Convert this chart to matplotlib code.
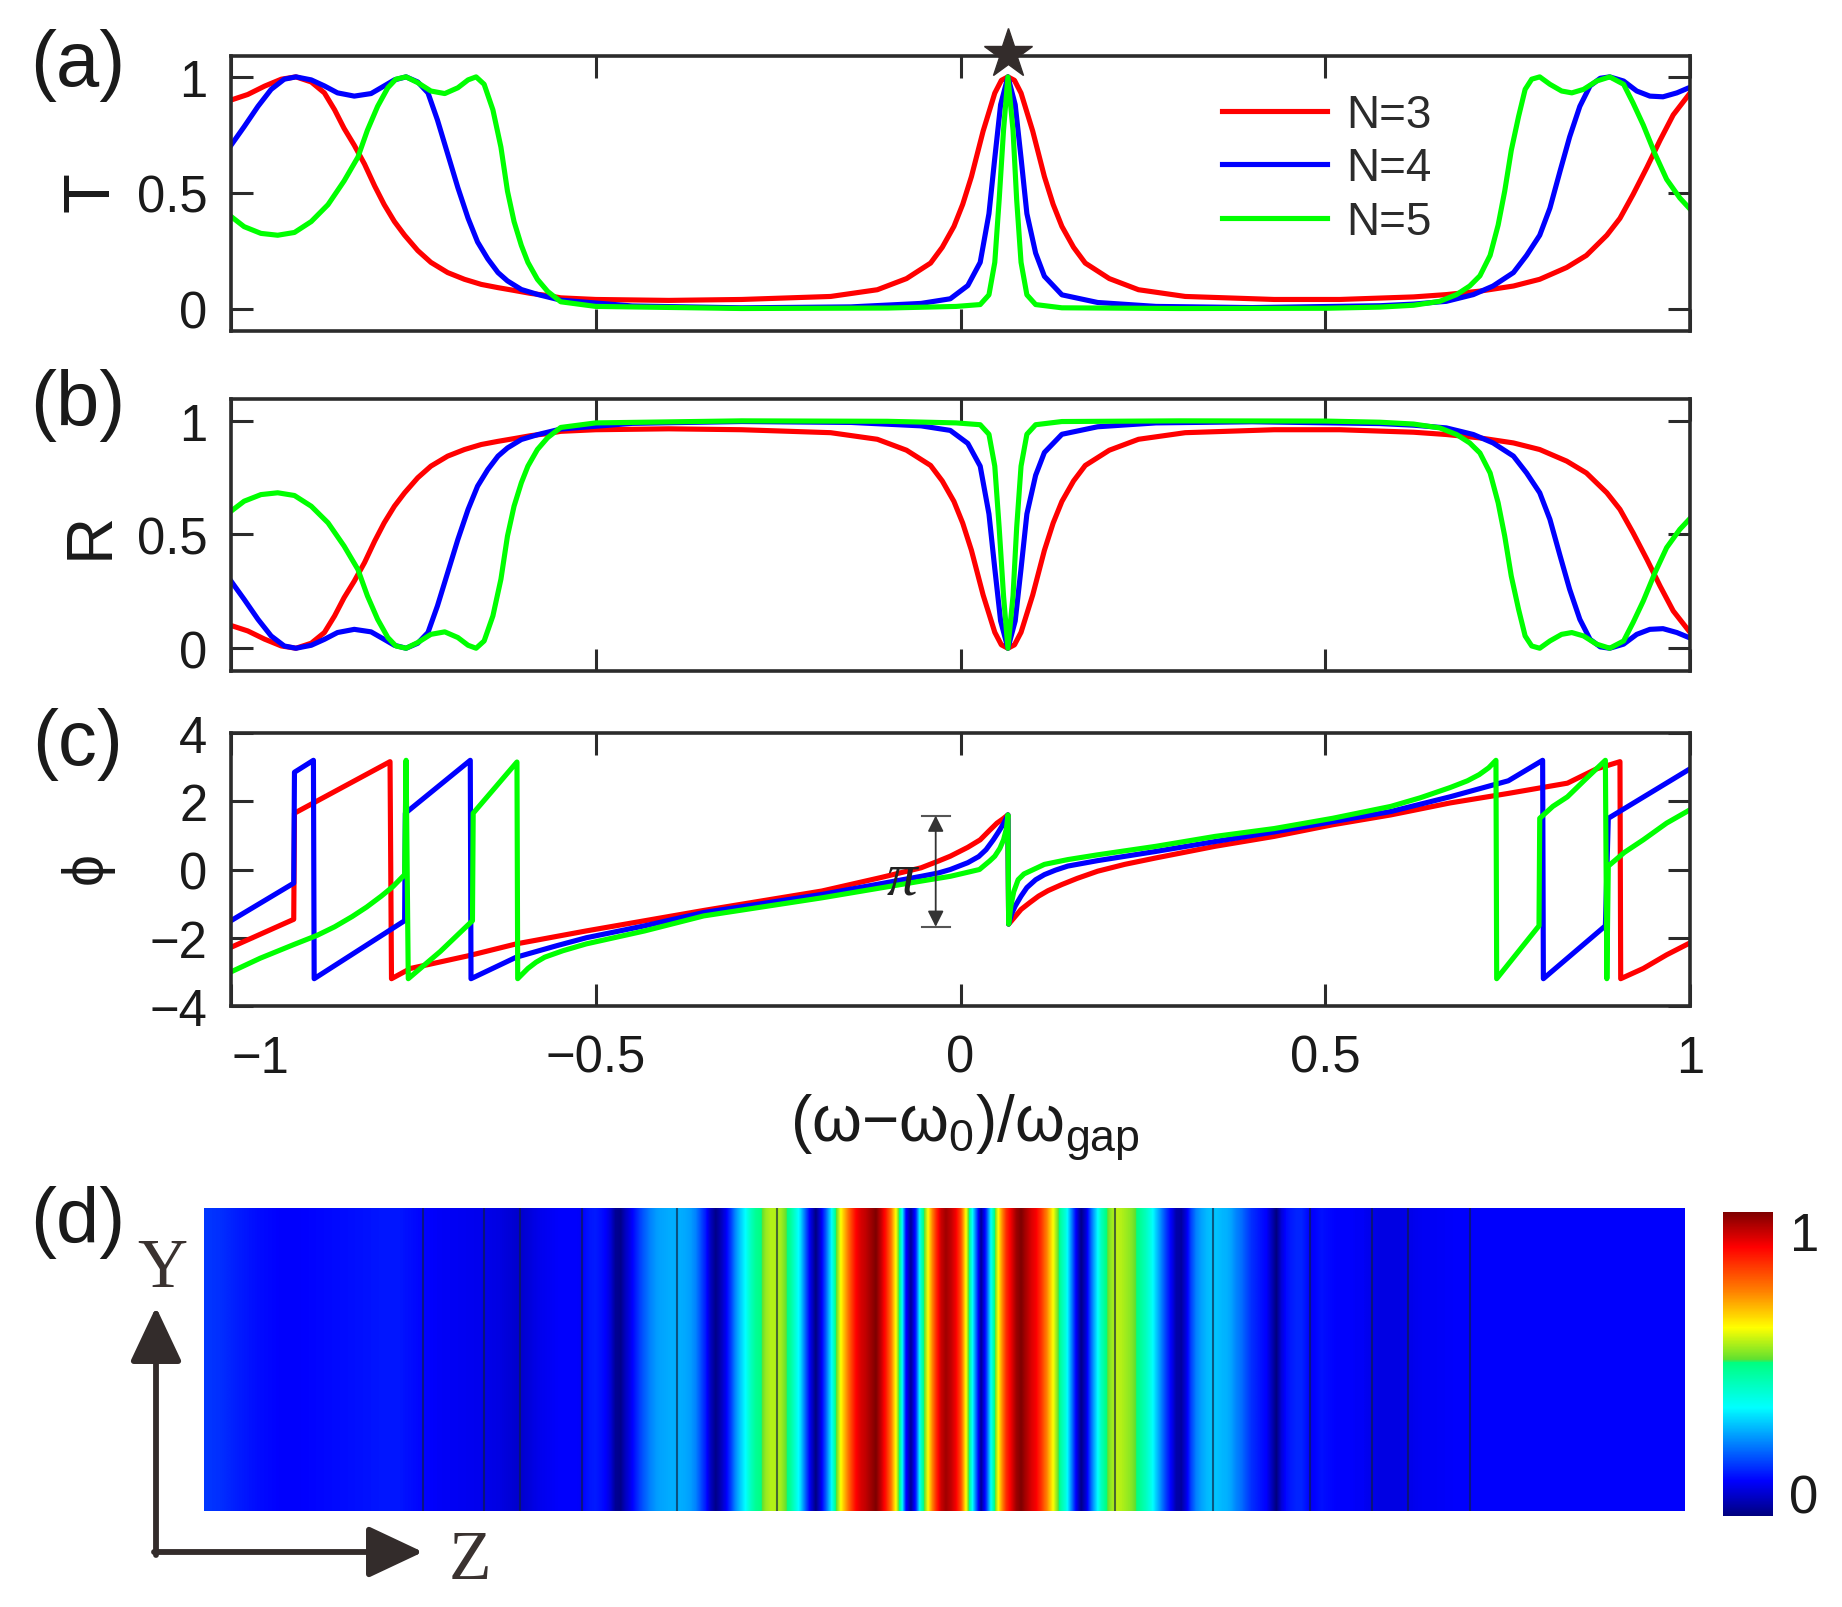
import matplotlib

matplotlib.use("Agg")
import matplotlib.pyplot as plt
from matplotlib.cm import ScalarMappable
from matplotlib.colors import LinearSegmentedColormap, Normalize

W, H = 1842, 1608
plt.rcParams["font.family"] = ["Liberation Sans", "DejaVu Sans"]
plt.rcParams["mathtext.fontset"] = "custom"
plt.rcParams["mathtext.rm"] = "Liberation Sans"

RED, BLUE, GREEN = "#ff0000", "#0000ff", "#00ff00"
DARK = "#2b2b2b"
LW = 3.7

# (a) and (b), N=3
x_n3 = [-1, -.977, -.954, -.931, -.911, -.89, -.872, -.858, -.845, -.831, -.817, -.803, -.79, -.776, -.762,
        -.744, -.726, -.703, -.68, -.657, -.634, -.612, -.589, -.566, -.548, -.5, -.4, -.3, -.178, -.114,
        -.074, -.041, -.025, -.009, .003, .015, .031, .047, .056, .065, .074, .083, .099, .115, .127, .139, .155, .171, .204,
        .244, .308, .43, .52, .621, .666, .712, .758, .794, .831, .858, .886, .904, .922, .941, .959, .977, 1]
t_n3 = [.90, .924, .96, .99, 1, .978, .931, .858, .778, .705, .624, .529, .449, .376, .317,
        .251, .20, .156, .127, .105, .091, .079, .066, .057, .047, .04, .036, .04, .053, .082,
        .13, .197, .265, .355, .45, .57, .766, .93, .985, 1, .985, .93, .766, .57, .45, .355, .265, .197, .13,
        .082, .053, .04, .04, .051, .061, .076, .098, .127, .178, .23, .317, .39, .493, .61, .727, .836, .93]
r_n3 = [.10, .076, .04, .01, 0, .022, .069, .142, .222, .295, .376, .471, .551, .624, .683,
        .749, .80, .844, .873, .895, .909, .921, .934, .943, .953, .96, .964, .96, .947, .918,
        .87, .803, .735, .645, .55, .43, .234, .07, .015, 0, .015, .07, .234, .43, .55, .645, .735, .803, .87,
        .918, .947, .96, .96, .949, .939, .924, .902, .873, .822, .77, .683, .61, .507, .39, .273, .164, .07]

# (a) and (b), N=4
x_n4 = [-1, -.982, -.963, -.945, -.927, -.911, -.89, -.872, -.854, -.831, -.808, -.79, -.776, -.76, -.744,
        -.73, -.717, -.703, -.689, -.675, -.662, -.648, -.634, -.621, -.602, -.579, -.548, -.45, -.3, -.15,
        -.054, -.014, .01, .027, .039, .047, .055, .065, .075, .083, .091, .103, .115, .139, .188,
        .268, .4, .575, .621, .666, .703, .73, .758, .776, .794, .808, .822, .835, .849, .863,
        .877, .89, .909, .927, .945, .963, .982, 1]
t_n4 = [.705, .785, .873, .946, .99, 1, .987, .961, .931, .917, .928, .961, .987, 1, .978,
        .931, .814, .668, .522, .39, .288, .215, .156, .12, .083, .061, .037, .012, .004, .008,
        .023, .043, .10, .20, .41, .65, .88, 1, .88, .65, .41, .24, .14, .06, .027,
        .01, .005, .013, .02, .032, .061, .098, .156, .23, .317, .434, .595, .741, .873, .961,
        .994, 1, .982, .939, .917, .914, .931, .955]
r_n4 = [.295, .215, .127, .054, .01, 0, .013, .039, .069, .083, .072, .039, .013, 0, .022,
        .069, .186, .332, .478, .61, .712, .785, .844, .88, .917, .939, .963, .988, .996, .992,
        .977, .957, .90, .80, .59, .35, .12, 0, .12, .35, .59, .76, .86, .94, .973,
        .99, .995, .987, .98, .968, .939, .902, .844, .77, .683, .566, .405, .259, .127, .039,
        .006, 0, .018, .061, .083, .086, .069, .045]

# (a) and (b), N=5
x_n5 = [-1, -.982, -.959, -.936, -.913, -.89, -.867, -.845, -.826, -.813, -.799, -.785, -.774, -.76, -.744,
        -.726, -.707, -.689, -.675, -.664, -.653, -.641, -.63, -.621, -.612, -.602, -.593, -.58, -.566, -.548,
        -.5, -.3, -.1, -.006, .027, .039, .047, .053, .059, .065, .072, .077, .083, .091, .103,
        .139, .3, .5, .575, .621, .657, .68, .698, .712, .726, .737, .746, .755, .765, .774,
        .783, .794, .808, .824, .838, .854, .872, .89, .909, .922, .936, .952, .968, .986, 1]
t_n5 = [.398, .354, .325, .317, .329, .376, .449, .551, .654, .77, .873, .953, .99, 1, .975,
        .939, .928, .953, .987, 1, .968, .858, .697, .507, .376, .273, .2, .127, .075, .03,
        .01, .001, .003, .01, .018, .06, .2, .47, .77, 1, .77, .47, .2, .06, .018,
        .004, .001, .002, .007, .015, .032, .061, .098, .142, .23, .361, .507, .683, .829, .946,
        .99, 1, .968, .939, .931, .946, .982, 1, .968, .887, .792, .668, .558, .478, .43]
r_n5 = [.602, .646, .675, .683, .671, .624, .551, .449, .346, .23, .127, .047, .01, 0, .025,
        .061, .072, .047, .013, 0, .032, .142, .303, .493, .624, .727, .80, .873, .925, .97,
        .99, .999, .997, .99, .982, .94, .80, .53, .23, 0, .23, .53, .80, .94, .982,
        .996, .999, .998, .993, .985, .968, .939, .902, .858, .77, .639, .493, .317, .171, .054,
        .01, 0, .032, .061, .069, .054, .018, 0, .032, .113, .208, .332, .442, .522, .57]

# (c), phase
x_phi_n3 = [-1, -.914, -.913, -.782, -.78, -.754, -.673, -.609, -.513, -.352, -.19, -.11, -.054, -.03, -.014,
            .01, .027, .04, .05, .058, .065, .066, .072, .083, .095, .107, .12, .139, .16, .188, .225, .268,
            .349, .43, .51, .59, .671, .751, .832, .872, .904, .905, .936, .968, 1]
phi_n3 = [-2.28, -1.46, 1.65, 3.16, -3.2, -2.9, -2.52, -2.18, -1.8, -1.2, -.63, -.24, .05, .25, .39,
          .65, .87, 1.15, 1.36, 1.48, 1.6, -1.6, -1.45, -1.17, -.97, -.78, -.62, -.44, -.26, -.05, .15, .34,
          .68, .97, 1.31, 1.6, 1.95, 2.23, 2.53, 2.95, 3.16, -3.2, -2.9, -2.5, -2.15]
x_phi_n4 = [-1, -.914, -.913, -.887, -.886, -.762, -.761, -.672, -.671, -.609, -.553, -.513, -.433, -.352,
            -.19, -.054, -.03, -.014, .01, .025, .035, .045, .052, .06, .065, .066, .07, .075, .083, .091,
            .103, .115, .13, .147, .188, .268, .349, .43, .51, .59, .671, .751, .798, .799, .884, .888, 1]
phi_n4 = [-1.5, -.4, 2.85, 3.2, -3.2, -1.5, 1.65, 3.2, -3.2, -2.57, -2.23, -2.0, -1.65, -1.26,
          -.73, -.2, -.1, 0, .2, .38, .58, .87, 1.1, 1.38, 1.6, -1.6, -1.3, -1.07, -.78, -.53,
          -.3, -.15, -.02, .1, .26, .53, .82, 1.1, 1.4, 1.7, 2.13, 2.6, 3.2, -3.2, -1.65, 1.5, 2.95]
x_phi_n5 = [-1, -.96, -.914, -.882, -.858, -.834, -.814, -.794, -.778, -.762, -.76, -.757, -.713, -.669, -.668,
            -.608, -.607, -.6, -.593, -.582, -.57, -.545, -.513, -.433, -.352, -.19, -.054, -.014, .026, .04,
            .047, .054, .059, .063, .065, .066, .069, .073, .079, .087, .095, .115, .147, .188, .268,
            .349, .43, .51, .59, .63, .671, .695, .711, .724, .734, .735, .793, .794, .812, .832, .857, .884,
            .886, .888, .91, .936, .968, 1]
phi_n5 = [-3.0, -2.6, -2.2, -1.93, -1.68, -1.38, -1.1, -.78, -.5, -.15, 3.2, -3.2, -2.4, -1.5, 1.65,
          3.15, -3.2, -3.05, -2.9, -2.72, -2.57, -2.38, -2.18, -1.8, -1.36, -.83, -.34, -.2, 0, .25,
          .39, .62, .87, 1.2, 1.6, -1.6, -1.07, -.65, -.3, -.13, -.05, .15, .29, .43, .68,
          .97, 1.2, 1.5, 1.85, 2.1, 2.4, 2.6, 2.78, 2.98, 3.2, -3.2, -1.65, 1.5, 1.85, 2.13, 2.65, 3.2,
          -3.2, .1, .5, .87, 1.36, 1.75]

# (d), field along z, left part every 20 px, middle every 5 px, right every 20 px
field_left = [.17, .16, .14, .125, .115, .115, .12, .125, .13, .135, .135, .12, .11, .105, .10, .09, .07, .10, .115]
field_mid = [
    .115, .115, .115, .115, .11, .125, .135, .14, .13, .115, .08, .02, .01, .06, .10, .14,
    .18, .21, .24, .26, .27, .275, .28, .28, .28, .275, .265, .24, .19, .14, .06, .01,
    .05, .10, .17, .25, .31, .36, .43, .48, .50, .55, .57, .57, .56, .52, .47, .40,
    .32, .20, .09, .005, .09, .20, .33, .50, .62, .71, .80, .88, .92, .94, .97, 1.0,
    .94, .86, .76, .62, .44, .13, .02, .15, .42, .56, .70, .83, .93, .97, .94, .89,
    .80, .62, .42, .22, .02, .15, .36, .55, .70, .83, .90, .97, 1.0, .96, .92, .89,
    .83, .75, .66, .56, .46, .39, .25, .11, .01, .08, .21, .32, .43, .50, .55, .58,
    .57, .555, .54, .51, .47, .43, .38, .31, .24, .17, .11, .04, .03, .09, .18, .24,
    .27, .29, .30, .30, .29, .285, .27, .24, .22, .19, .16, .145, .13, .115, .06, 0,
    .08, .125, .14, .15, .15, .13, .11, .12, .13, .125, .12, .115, .115, .115, .115, .11, .11]
field_right = [.11, .09, .09, .105, .11, .115, .115, .115, .115, .115, .115, .115, .115, .115, .115, .115, .115, .115]
layer_lines = [423, 484, 520, 582, 677, 777, 1115, 1213, 1310, 1372, 1408, 1470]

x_ticks = [-1, -.5, 0, .5, 1]
x_labels = ["\u22121", "\u22120.5", "0", "0.5", "1"]
cmap_nodes = [(0, "#00007f"), (.115, "#0000ff"), (.357, "#00ffff"), (.505, "#00ff80"), (.515, "#60e030"),
              (.62, "#ffff00"), (.74, "#ff8000"), (.885, "#ff0000"), (1, "#7f0000")]


def px_axes(left, top, right, bottom):
    return fig.add_axes([left / W, 1 - bottom / H, (right - left) / W, (bottom - top) / H])


def style_axes(ax, ylim, yticks, ylabels):
    ax.set_xlim(-1, 1)
    ax.set_ylim(*ylim)
    ax.set_xticks(x_ticks)
    ax.set_xticklabels([])
    ax.set_yticks(yticks)
    ax.set_yticklabels(ylabels)
    ax.tick_params(direction="in", length=16, width=2.2, color=DARK, top=True, right=True,
                   labelsize=36.5, pad=17, labelcolor="#1a1a1a")
    for s in ax.spines.values():
        s.set_linewidth(2.6)
        s.set_color(DARK)


fig = plt.figure(figsize=(W / 100, H / 100), dpi=100)

# panel a
ax_a = px_axes(231, 57, 1690, 332)
ax_a.plot(x_n3, t_n3, color=RED, lw=LW, label="N=3")
ax_a.plot(x_n4, t_n4, color=BLUE, lw=LW, label="N=4")
ax_a.plot(x_n5, t_n5, color=GREEN, lw=LW, label="N=5")
ax_a.plot([.065], [1.10], marker="*", ms=37, color="#332c2b", clip_on=False, ls="none", zorder=5)
style_axes(ax_a, (-.096, 1.09), [0, .5, 1], ["0", "0.5", "1"])
ax_a.legend(loc="upper left", bbox_to_anchor=(.679, .866), frameon=False, fontsize=33, handlelength=2.3,
            handletextpad=.42, labelspacing=.21, borderpad=0, borderaxespad=0, labelcolor="#2b2b2b")

# panel b
ax_b = px_axes(231, 400, 1690, 672)
ax_b.plot(x_n3, r_n3, color=RED, lw=LW)
ax_b.plot(x_n4, r_n4, color=BLUE, lw=LW)
ax_b.plot(x_n5, r_n5, color=GREEN, lw=LW)
style_axes(ax_b, (-.1, 1.095), [0, .5, 1], ["0", "0.5", "1"])

# panel c
ax_c = px_axes(231, 734, 1690, 1007)
ax_c.plot(x_phi_n3, phi_n3, color=RED, lw=LW)
ax_c.plot(x_phi_n4, phi_n4, color=BLUE, lw=LW)
ax_c.plot(x_phi_n5, phi_n5, color=GREEN, lw=LW)
style_axes(ax_c, (-4, 4), [-4, -2, 0, 2, 4], ["\u22124", "\u22122", "0", "2", "4"])
ax_c.set_xticklabels(x_labels)
ax_c.tick_params(axis="x", pad=20)
ax_c.get_xticklabels()[0].set_ha("left")
ax_c.annotate("", xy=(-.034, 1.58), xytext=(-.034, -1.68),
              arrowprops=dict(arrowstyle="<|-|>", color="#333333", lw=1.3, mutation_scale=24, shrinkA=0, shrinkB=0))
ax_c.plot([-.053, -.015], [1.58, 1.58], color="#555555", lw=1.5)
ax_c.plot([-.053, -.015], [-1.68, -1.68], color="#555555", lw=1.5)
ax_c.text(-.08, -.27, "\u03c0", family="Liberation Serif", style="italic", fontsize=44, ha="center", va="center",
          color="#222222")

# panel d
cmap = LinearSegmentedColormap.from_list("field", cmap_nodes, N=512)
ax_d = px_axes(204, 1209, 1685, 1512)
strips = [(field_left, 200, 20), (field_right, 1360, 20), (field_mid, 560, 5)]
for values, start, step in strips:
    ax_d.imshow([values], cmap=cmap, vmin=0, vmax=1, aspect="auto", interpolation="bilinear",
                extent=[start - step / 2, start + step * (len(values) - .5), 0, 1])
ax_d.set_xlim(204, 1685)
ax_d.set_ylim(0, 1)
ax_d.axis("off")
for z in layer_lines:
    ax_d.axvline(z, color="#102040", lw=1.5, alpha=.65)

cax = px_axes(1723, 1213, 1773, 1517)
cb = fig.colorbar(ScalarMappable(Normalize(0, 1), cmap), cax=cax)
cb.outline.set_visible(False)
cb.set_ticks([])

# text in figure pixels
def px_text(x, y, s, **kw):
    kw.setdefault("ha", "center")
    kw.setdefault("va", "center")
    kw.setdefault("color", "#1a1a1a")
    fig.text(x / W, 1 - y / H, s, **kw)


for y, s in [(65, "(a)"), (406, "(b)"), (745, "(c)"), (1223, "(d)")]:
    px_text(78, y, s, fontsize=56)
px_text(91, 192, "T", fontsize=47, rotation=90)
px_text(91, 535, "R", fontsize=47, rotation=90)
px_text(87, 868, "\u03d5", fontsize=41, rotation=90)
px_text(965, 1128, "(\u03c9\u2212\u03c9$_{\\mathrm{0}}$)/\u03c9$_{\\mathrm{gap}}$", fontsize=46)
px_text(1805, 1237, "1", fontsize=38)
px_text(1804, 1500, "0", fontsize=38)
px_text(162, 1270, "Y", family="Liberation Serif", fontsize=50, color="#3a3230")
px_text(470, 1562, "Z", family="Liberation Serif", fontsize=50, color="#3a3230")

# Y-Z axes arrows
ax_over = fig.add_axes([0, 0, 1, 1], facecolor="none")
ax_over.set_xlim(0, W)
ax_over.set_ylim(H, 0)
ax_over.axis("off")
arrow = dict(arrowstyle="-|>,head_length=0.68,head_width=0.32", color="#332c2b", lw=4.2, mutation_scale=50,
             shrinkA=0, shrinkB=0)
ax_over.annotate("", xy=(156, 1308), xytext=(156, 1556), arrowprops=arrow)
ax_over.annotate("", xy=(423, 1553), xytext=(154, 1553), arrowprops=arrow)

fig.savefig("out.png", dpi=100)
